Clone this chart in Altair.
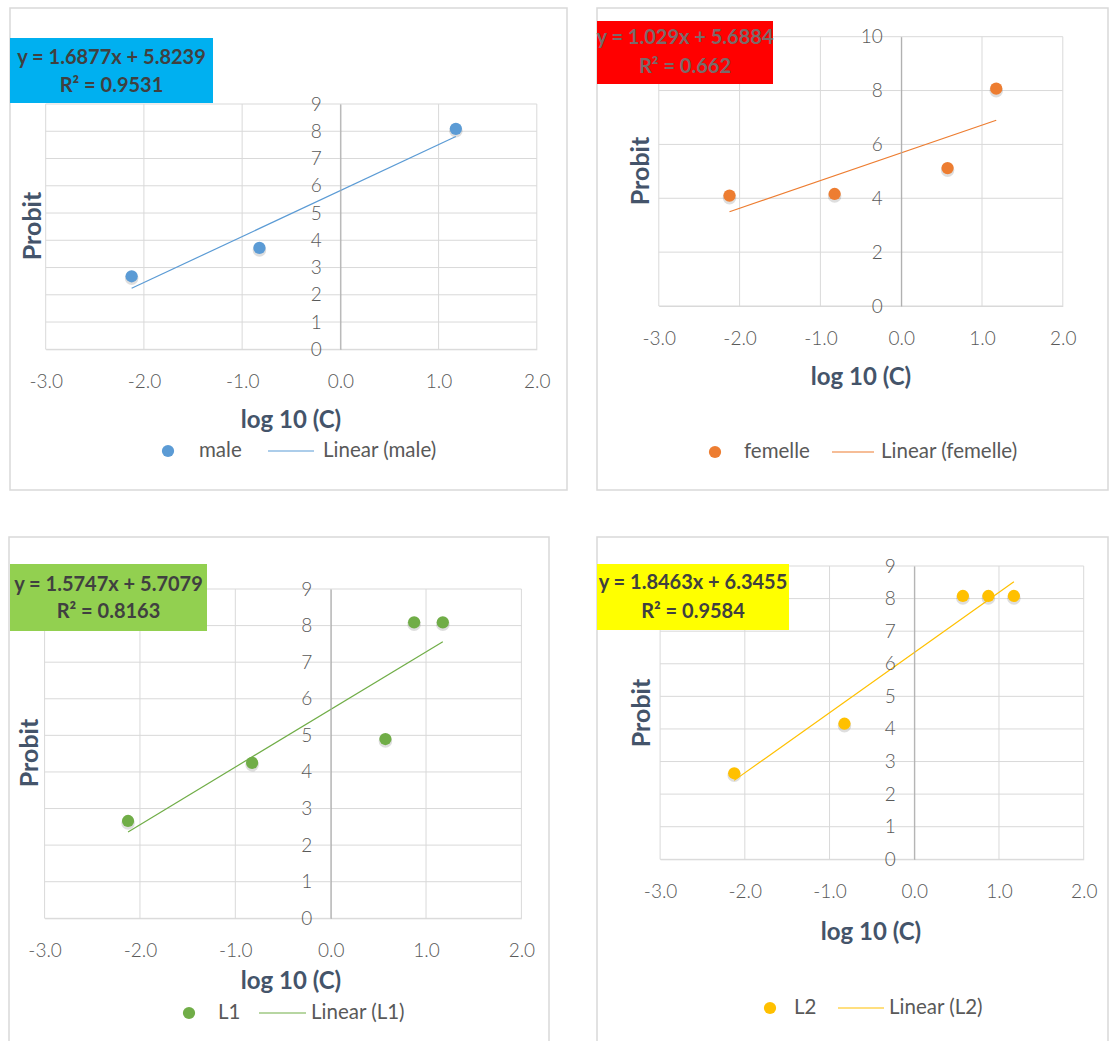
import altair as alt
import pandas as pd

# ---- data: log10 concentration vs probit, one series per group ----
log_c_male = [-2.125, -0.824, 1.176]
probit_male = [2.68, 3.72, 8.09]

log_c_femelle = [-2.125, -0.824, 0.574, 1.176]
probit_femelle = [4.10, 4.16, 5.12, 8.07]

log_c_l1 = [-2.125, -0.824, 0.574, 0.875, 1.176]
probit_l1 = [2.66, 4.25, 4.90, 8.09, 8.09]

log_c_l2 = [-2.125, -0.824, 0.574, 0.875, 1.176]
probit_l2 = [2.64, 4.16, 8.08, 8.08, 8.08]

series_names = ["male", "femelle", "L1", "L2"]
slopes = [1.6877, 1.029, 1.5747, 1.8463]
intercepts = [5.8239, 5.6884, 5.7079, 6.3455]
slope_text = ["1.6877", "1.029", "1.5747", "1.8463"]
intercept_text = ["5.8239", "5.6884", "5.7079", "6.3455"]
r_squared_text = ["0.9531", "0.662", "0.8163", "0.9584"]

x_ticks = [-3, -2, -1, 0, 1, 2]
y_ticks_9 = [0, 1, 2, 3, 4, 5, 6, 7, 8, 9]
y_ticks_10 = [0, 2, 4, 6, 8, 10]

# ---- styling ----
W, H = 1112, 1041
FONT = "Lato"
TICK_COLOR = "#595959"
TITLE_COLOR = "#44546A"
GRID_COLOR = "#D9D9D9"
ZERO_AXIS_COLOR = "#A6A6A6"

marker_colors = ["#5B9BD5", "#ED7D31", "#70AD47", "#FFC000"]
box_colors = ["#00B0F0", "#FF0000", "#92D050", "#FFFF00"]
box_text_colors = ["#404040", "#7A6A6A", "#404040", "#404040"]

# pixel layout of each chart block (plot range, frame, label box, titles, legend)
layouts = [
    dict(x_range=[45.7, 536.8], y_range=[349.3, 104.0], frame=(10, 8, 567, 490),
         box=(10, 38, 213, 103), box_lines=(58, 86),
         probit=(33, 226), xtitle=(291, 421),
         legend_y=451, legend_dot=168, legend_name=199, legend_rule=(268, 314), legend_lin=323),
    dict(x_range=[658.8, 1062.8], y_range=[306.0, 36.7], frame=(597, 8, 1108, 490),
         box=(597, 21, 773, 84), box_lines=(38, 67),
         probit=(641, 171), xtitle=(861, 378),
         legend_y=452, legend_dot=715, legend_name=744, legend_rule=(832, 874), legend_lin=881),
    dict(x_range=[44.6, 521.4], y_range=[918.3, 589.0], frame=(9, 537, 549, 1050),
         box=(10, 564, 207, 631), box_lines=(585, 612),
         probit=(30, 753), xtitle=(291, 982),
         legend_y=1013, legend_dot=189, legend_name=218, legend_rule=(259, 306), legend_lin=311),
    dict(x_range=[660.1, 1083.7], y_range=[859.3, 566.0], frame=(597, 537, 1108, 1050),
         box=(597, 564, 789, 630), box_lines=(583, 612),
         probit=(642, 713), xtitle=(871, 933),
         legend_y=1008, legend_dot=770, legend_name=794, legend_rule=(838, 884), legend_lin=889),
]

one_row = alt.Data(values=[{"k": 0}])


def text_at(text, x, y, size, color, weight="normal", align="center", angle=0):
    mark = dict(text=text, font=FONT, fontSize=size, color=color, fontWeight=weight,
                align=align, baseline="middle")
    if angle:
        mark["angle"] = angle
    return alt.Chart(one_row).mark_text(**mark).encode(x=alt.value(x), y=alt.value(y))


def panel(i, xs, ys, y_ticks, y_max):
    lay = layouts[i]
    color = marker_colors[i]
    xr, yr = lay["x_range"], lay["y_range"]
    x_zero_px = xr[0] + (0 - (-3)) / 5 * (xr[1] - xr[0])

    xsc = alt.Scale(domain=[-3, 2], range=xr, nice=False, zero=False)
    ysc = alt.Scale(domain=[0, y_max], range=yr, nice=False, zero=False)
    xax = alt.Axis(orient="bottom", offset=yr[0] - H, values=x_ticks, grid=False,
                   ticks=False, tickSize=0, domainColor=GRID_COLOR, domainWidth=1,
                   labelFont=FONT, labelFontSize=19, labelFontWeight=300,
                   labelColor=TICK_COLOR,
                   labelPadding=32, labelBaseline="middle", labelFlush=False,
                   labelOverlap=False, title=None,
                   labelExpr="(datum.value < 0 ? '-' : '') + format(abs(datum.value), '.1f')")
    yax = alt.Axis(orient="left", offset=-x_zero_px, values=y_ticks, grid=False,
                   ticks=False, tickSize=0, domainColor=ZERO_AXIS_COLOR, domainWidth=1,
                   labelFont=FONT, labelFontSize=19, labelFontWeight=300,
                   labelColor=TICK_COLOR,
                   labelPadding=19, labelFlush=False, labelOverlap=False, title=None,
                   zindex=1)

    vgrid = pd.DataFrame({"x": x_ticks, "lo": 0, "hi": y_max})
    hgrid = pd.DataFrame({"y": y_ticks, "lo": -3, "hi": 2})
    pts = pd.DataFrame({"x": xs, "y": ys})
    fit = pd.DataFrame({"x": [min(xs), max(xs)]})

    v = alt.Chart(vgrid).mark_rule(color=GRID_COLOR, strokeWidth=1).encode(
        x=alt.X("x:Q", scale=xsc, axis=xax),
        y=alt.Y("lo:Q", scale=ysc, axis=yax), y2="hi:Q")
    h = alt.Chart(hgrid).mark_rule(color=GRID_COLOR, strokeWidth=1).encode(
        y=alt.Y("y:Q", scale=ysc, axis=yax),
        x=alt.X("lo:Q", scale=xsc, axis=xax), x2="hi:Q")
    shadow = alt.Chart(pts).mark_circle(color="#000000", opacity=0.13, size=185, yOffset=2).encode(
        x=alt.X("x:Q", scale=xsc, axis=xax), y=alt.Y("y:Q", scale=ysc, axis=yax))
    dots = alt.Chart(pts).mark_circle(color=color, opacity=1, size=150).encode(
        x=alt.X("x:Q", scale=xsc, axis=xax), y=alt.Y("y:Q", scale=ysc, axis=yax))
    trend = alt.Chart(fit).transform_calculate(
        fit=f"{slopes[i]} * datum.x + {intercepts[i]}"
    ).mark_line(color=color, strokeWidth=1.2).encode(
        x=alt.X("x:Q", scale=xsc, axis=xax), y=alt.Y("fit:Q", scale=ysc, axis=yax))

    data_layer = alt.layer(v, h, shadow, dots, trend)

    fx1, fy1, fx2, fy2 = lay["frame"]
    frame = alt.Chart(one_row).mark_rect(fillOpacity=0, stroke=GRID_COLOR, strokeWidth=1.5).encode(
        x=alt.value(fx1), x2=alt.value(fx2), y=alt.value(fy1), y2=alt.value(fy2))

    bx1, by1, bx2, by2 = lay["box"]
    box = alt.Chart(one_row).mark_rect(color=box_colors[i]).encode(
        x=alt.value(bx1), x2=alt.value(bx2), y=alt.value(by1), y2=alt.value(by2))
    bcx = (bx1 + bx2) / 2
    eq1 = text_at(f"y = {slope_text[i]}x + {intercept_text[i]}", bcx, lay["box_lines"][0],
                  20, box_text_colors[i], weight="bold")
    eq2 = text_at(f"R\u00b2 = {r_squared_text[i]}", bcx, lay["box_lines"][1],
                  20, box_text_colors[i], weight="bold")

    probit = text_at("Probit", lay["probit"][0], lay["probit"][1], 25, TITLE_COLOR,
                     weight="bold", angle=270)
    xtitle = text_at("log 10 (C)", lay["xtitle"][0], lay["xtitle"][1], 24, TITLE_COLOR,
                     weight="bold")

    ly = lay["legend_y"]
    leg_dot = alt.Chart(one_row).mark_circle(color=color, opacity=1, size=150).encode(
        x=alt.value(lay["legend_dot"]), y=alt.value(ly))
    leg_name = text_at(series_names[i], lay["legend_name"], ly, 20.5, TICK_COLOR, align="left")
    leg_rule = alt.Chart(one_row).mark_rule(color=color, strokeWidth=1.2).encode(
        x=alt.value(lay["legend_rule"][0]), x2=alt.value(lay["legend_rule"][1]), y=alt.value(ly))
    leg_lin = text_at(f"Linear ({series_names[i]})", lay["legend_lin"], ly, 20.5, TICK_COLOR,
                      align="left")

    return [frame, data_layer, box, eq1, eq2, probit, xtitle, leg_dot, leg_name, leg_rule, leg_lin]


layers = []
layers += panel(0, log_c_male, probit_male, y_ticks_9, 9)
layers += panel(1, log_c_femelle, probit_femelle, y_ticks_10, 10)
layers += panel(2, log_c_l1, probit_l1, y_ticks_9, 9)
layers += panel(3, log_c_l2, probit_l2, y_ticks_9, 9)

chart = alt.layer(*layers).resolve_scale(
    x="independent", y="independent"
).properties(
    width=W, height=H, padding=0, autosize=alt.AutoSizeParams(type="none"),
    background="white"
).configure_view(stroke=None)

chart.save("out.html", embed_options={"renderer": "svg", "actions": False})
